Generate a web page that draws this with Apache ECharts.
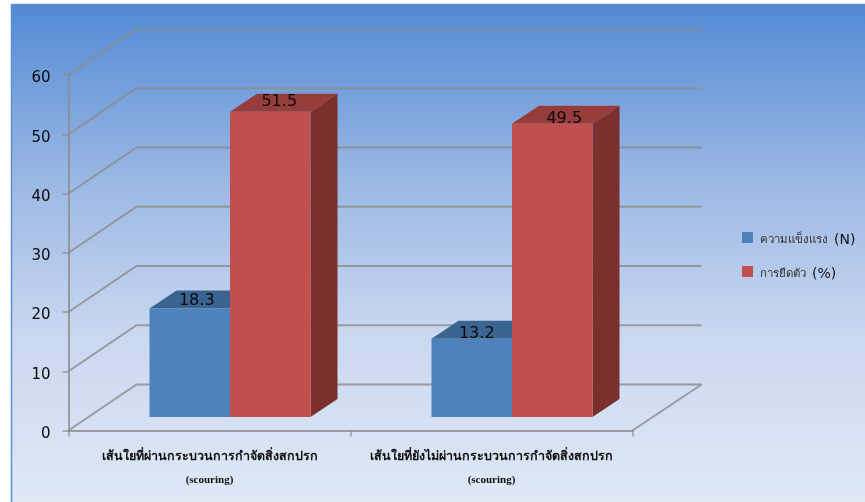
<!DOCTYPE html>
<html><head><meta charset="utf-8">
<style>html,body{margin:0;padding:0;background:#fff}#c{width:865px;height:502px}</style>
<script src="https://cdn.jsdelivr.net/npm/echarts@6/dist/echarts.min.js"></script>
</head><body><div id="c"></div>
<script>
const categories = ['เส้นใยที่ผ่านกระบวนการกำจัดสิ่งสกปรก\n(scouring)', 'เส้นใยที่ยังไม่ผ่านกระบวนการกำจัดสิ่งสกปรก\n(scouring)'];
const strength = [18.3, 13.2];
const elongation = [51.5, 49.5];
const wallTicks = [0, 10, 20, 30, 40, 50, 60];
const seriesNames = ['ความแข็งแรง  (N)', 'การยืดตัว  (%)'];

const WALL_DX = 68, WALL_DY = -46, BAR_SHIFT_X = 21, BAR_SHIFT_Y = -13.5, BAR_W = 80.5, DEPTH_X = 27, DEPTH_Y = -18;
const LINE = 'rgba(140,140,140,0.82)';

function barRenderer(side, front, topC, sideC, labelShift) {
  return function (params, api) {
    const cat = api.value(0), val = api.value(1);
    const base = api.coord([cat, 0]), head = api.coord([cat, val]);
    const x0 = base[0] + BAR_SHIFT_X + (side < 0 ? -BAR_W : 0) - 0.5, x1 = x0 + BAR_W;
    const yb = base[1] + BAR_SHIFT_Y, yt = head[1] + BAR_SHIFT_Y;
    const poly = (pts, fill) => ({ type: 'polygon', shape: { points: pts }, style: { fill: fill } });
    const ls = labelShift[cat];
    return { type: 'group', children: [
      poly([[x1, yb], [x1 + DEPTH_X, yb + DEPTH_Y], [x1 + DEPTH_X, yt + DEPTH_Y], [x1, yt]], sideC),
      poly([[x0, yt], [x0 + DEPTH_X, yt + DEPTH_Y], [x1 + DEPTH_X, yt + DEPTH_Y], [x1, yt]], topC),
      poly([[x0, yb], [x1, yb], [x1, yt], [x0, yt]], front),
      { type: 'text', z2: 10, style: { text: String(val), x: (x0 + x1) / 2 + ls[0], y: yt + ls[1], align: 'center', verticalAlign: 'middle',
        font: '16px "DejaVu Sans"', fill: '#0a0a0a' } }
    ] };
  };
}

function wallRenderer(params, api) {
  const v = api.value(0), cs = params.coordSys;
  const p = api.coord([0, v]), xL = cs.x, xR = cs.x + cs.width, y = p[1];
  const style = { stroke: LINE, lineWidth: 2, fill: null };
  const children = [{ type: 'polyline', shape: { points: [[xL, y], [xL + WALL_DX, y + WALL_DY], [xR + WALL_DX + 1, y + WALL_DY]] }, style }];
  if (v === 0) children.push({ type: 'line', shape: { x1: xR, y1: y, x2: xR + WALL_DX + 1, y2: y + WALL_DY }, style });
  return { type: 'group', children };
}

const chart = echarts.init(document.getElementById('c'), null, { renderer: 'canvas' });
chart.setOption({
  animation: false,
  graphic: [{ type: 'rect', z: -10, silent: true, shape: { x: 11.5, y: 4.5, width: 860, height: 505 },
    style: { stroke: '#5b8fd2', lineWidth: 1.5, fill: { type: 'linear', x: 0, y: 0, x2: 0, y2: 1,
      colorStops: [{ offset: 0, color: '#5289d4' }, { offset: 0.35, color: '#9bb8e4' }, { offset: 0.65, color: '#c9d7f0' }, { offset: 1, color: '#e1e9f6' }] } } }],
  grid: { left: 68.5, right: 232.5, top: 75, bottom: 71.5 },
  legend: { left: 737, top: 227, orient: 'vertical', itemWidth: 11, itemHeight: 11, itemGap: 19, icon: 'rect',
    data: seriesNames,
    formatter: name => { const i = name.indexOf('  '); return '{th|' + name.slice(0, i) + '}{la|' + name.slice(i + 2) + '}'; },
    textStyle: { rich: {
      th: { fontFamily: '"Noto Sans", "DejaVu Sans"', fontSize: 11.5, color: '#333', padding: [5, 6, 0, 2] },
      la: { fontFamily: '"DejaVu Sans"', fontSize: 14, color: '#111', padding: [5, 0, 0, 0] } } } },
  xAxis: { type: 'category', data: categories, boundaryGap: true,
    axisLine: { lineStyle: { color: LINE, width: 2 } },
    axisTick: { show: true, alignWithLabel: false, length: 6, lineStyle: { color: LINE, width: 1.5 } },
    axisLabel: { interval: 0, margin: 15,
      formatter: v => { const p = v.split('\n'); return '{th|' + p[0] + '}\n{la|' + p[1] + '}'; },
      rich: {
        th: { fontFamily: '"Liberation Serif", "Noto Sans"', fontWeight: 'bold', fontSize: 12.5, color: '#111', lineHeight: 23 },
        la: { fontFamily: '"Liberation Serif"', fontWeight: 'bold', fontSize: 11, color: '#111', lineHeight: 23 } } } },
  yAxis: { type: 'value', min: 0, max: 60, interval: 10,
    axisLine: { show: true, lineStyle: { color: LINE, width: 2 } },
    axisTick: { show: true, length: 6, lineStyle: { color: LINE, width: 1.5 } },
    splitLine: { show: false },
    axisLabel: { margin: 18, formatter: v => '{n|' + v + '}',
      rich: { n: { fontFamily: '"DejaVu Sans"', fontSize: 15, color: '#0a0a0a', padding: [7, 0, 0, 0] } } } },
  series: [
    { type: 'custom', name: 'walls', silent: true, z: 1, clip: false, coordinateSystem: 'cartesian2d', renderItem: wallRenderer,
      data: wallTicks.map(v => [v]), encode: { y: 0 } },
    { type: 'custom', name: seriesNames[0], z: 3, clip: false, coordinateSystem: 'cartesian2d', itemStyle: { color: '#4f81bd' },
      renderItem: barRenderer(-1, '#4f81bd', '#3c6491', '#3a5f8c', [[7, -8], [5, -5]]),
      data: strength.map((v, i) => [i, v]), encode: { x: 0, y: 1 } },
    { type: 'custom', name: seriesNames[1], z: 4, clip: false, coordinateSystem: 'cartesian2d', itemStyle: { color: '#c0504d' },
      renderItem: barRenderer(1, '#c0504d', '#963c3a', '#7b302e', [[9, -10], [12, -5]]),
      data: elongation.map((v, i) => [i, v]), encode: { x: 0, y: 1 } }
  ]
});
</script></body></html>
